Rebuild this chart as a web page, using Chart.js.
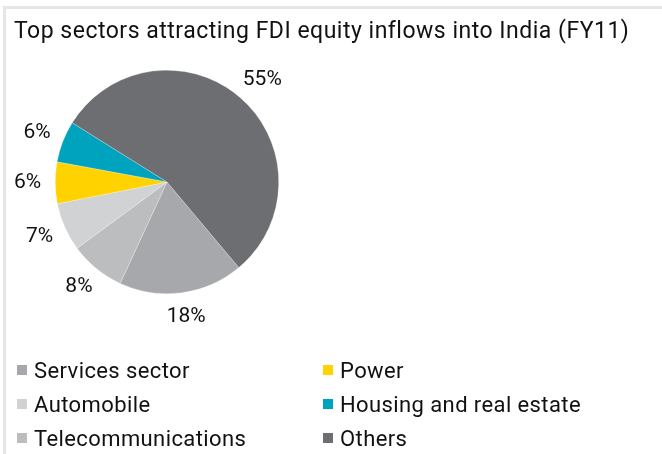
<!DOCTYPE html>
<html>
<head>
<meta charset="utf-8">
<script src="https://cdn.jsdelivr.net/npm/chart.js@4.4.1/dist/chart.umd.min.js"></script>
<style>
  body { margin: 0; background: #fff; }
  .wrap { position: relative; width: 662px; height: 454px; overflow: hidden; font-family: Roboto, "Liberation Sans", sans-serif; }
  .frame { position: absolute; left: 3px; top: 6px; right: 0; bottom: 0; border-top: 3px solid #e6e6e6; border-left: 3px solid #e6e6e6; pointer-events: none; }
  .title { position: absolute; left: 14px; top: 17px; font-size: 23px; letter-spacing: 0.5px; color: #111; white-space: nowrap; }
  canvas { position: absolute; left: 0; top: 0; }
  .legend { position: absolute; left: 17px; top: 353px; display: grid; grid-template-columns: 306px 300px; grid-auto-flow: column; grid-template-rows: repeat(3, 34px); font-size: 22px; letter-spacing: 0.4px; color: #111; }
  .legend div { display: flex; align-items: center; white-space: nowrap; }
  .legend span.box { width: 10px; height: 10px; margin-right: 7px; display: inline-block; }
</style>
</head>
<body>
<div class="wrap">
  <canvas id="pie" width="662" height="454"></canvas>
  <div class="title">Top sectors attracting FDI equity inflows into India (FY11)</div>
  <div class="legend" id="legend"></div>
  <div class="frame"></div>
</div>
<script>
// slices in drawing order (clockwise from lower right)
const sectors = ['Services sector', 'Telecommunications', 'Automobile', 'Power', 'Housing and real estate', 'Others'];
const shares = [18, 8, 7, 6, 6, 55];
const colors = ['#a7a8ab', '#bcbdbf', '#d1d2d4', '#ffd200', '#00a3bd', '#6d6e71'];
// legend order (column by column)
const legendOrder = ['Services sector', 'Automobile', 'Telecommunications', 'Power', 'Housing and real estate', 'Others'];

const legend = document.getElementById('legend');
legendOrder.forEach(name => {
    const i = sectors.indexOf(name);
    const item = document.createElement('div');
    item.innerHTML = '<span class="box" style="background:' + colors[i] + '"></span>' + name;
    legend.appendChild(item);
});

// percentage labels just outside the pie, box pushed away from the edge
const outsideLabels = {
    id: 'outsideLabels',
    afterDatasetsDraw(chart) {
        const ctx = chart.ctx;
        const meta = chart.getDatasetMeta(0);
        ctx.save();
        ctx.font = '21px Roboto, "Liberation Sans", sans-serif';
        ctx.fillStyle = '#111';
        ctx.textAlign = 'center';
        ctx.textBaseline = 'middle';
        meta.data.forEach((arc, i) => {
            const p = arc.getProps(['x', 'y', 'startAngle', 'endAngle', 'outerRadius'], true);
            const mid = (p.startAngle + p.endAngle) / 2;
            const txt = shares[i] + '%';
            const w = ctx.measureText(txt).width;
            const r = p.outerRadius + 14;
            const cx = p.x + Math.cos(mid) * r + Math.cos(mid) * w / 2;
            const cy = p.y + Math.sin(mid) * r + Math.sin(mid) * 10;
            ctx.fillText(txt, cx, cy);
        });
        ctx.restore();
    }
};

new Chart(document.getElementById('pie').getContext('2d'), {
    type: 'pie',
    data: {
        labels: sectors,
        datasets: [{
            data: shares,
            backgroundColor: colors,
            borderColor: 'rgba(255,255,255,0.5)',
            borderWidth: 0.5
        }]
    },
    options: {
        responsive: false,
        animation: false,
        rotation: 140,
        layout: { padding: { left: 55, right: 383, top: 70, bottom: 160 } },
        plugins: {
            legend: { display: false },
            tooltip: { enabled: false }
        }
    },
    plugins: [outsideLabels]
});
</script>
</body>
</html>
